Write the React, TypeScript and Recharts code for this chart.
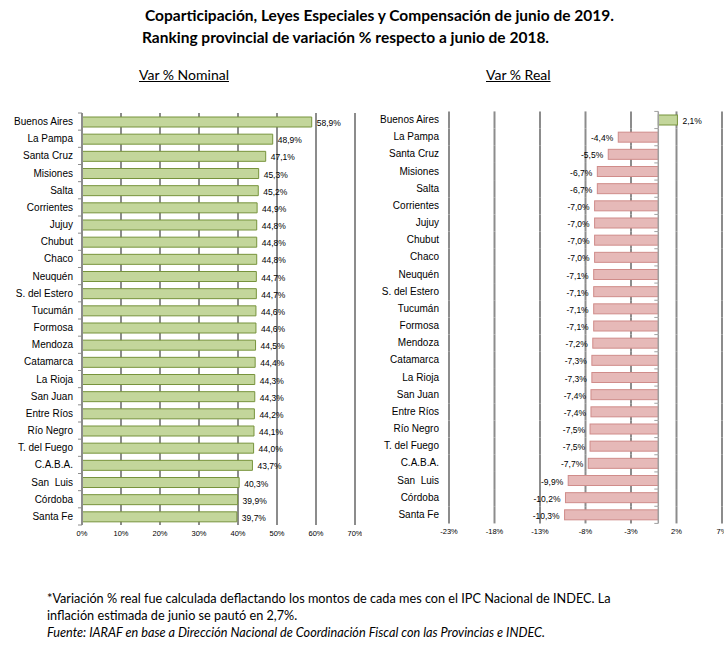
import React from 'react';
import { BarChart, Bar, XAxis, YAxis, CartesianGrid, LabelList } from 'recharts';

// Provinces in ranking order (same order in both panels)
const provincias = [
    'Buenos Aires', 'La Pampa', 'Santa Cruz', 'Misiones', 'Salta', 'Corrientes', 'Jujuy', 'Chubut',
    'Chaco', 'Neuquén', 'S. del Estero', 'Tucumán', 'Formosa', 'Mendoza', 'Catamarca', 'La Rioja',
    'San Juan', 'Entre Ríos', 'Río Negro', 'T. del Fuego', 'C.A.B.A.', 'San  Luis', 'Córdoba', 'Santa Fe',
];

const varNominal = [
    58.9, 48.9, 47.1, 45.3, 45.2, 44.9, 44.8, 44.8, 44.8, 44.7, 44.7, 44.6,
    44.6, 44.5, 44.4, 44.3, 44.3, 44.2, 44.1, 44.0, 43.7, 40.3, 39.9, 39.7,
];

const varReal = [
    2.1, -4.4, -5.5, -6.7, -6.7, -7.0, -7.0, -7.0, -7.0, -7.1, -7.1, -7.1,
    -7.1, -7.2, -7.3, -7.3, -7.4, -7.4, -7.5, -7.5, -7.7, -9.9, -10.2, -10.3,
];

const ticksNominal = [0, 10, 20, 30, 40, 50, 60, 70];
const ticksReal = [-23, -18, -13, -8, -3, 2, 7];

const nominalData = provincias.map((name, i) => ({ name, v: varNominal[i] }));
const realData = provincias.map((name, i) => ({ name, v: varReal[i] }));

const GRID = '#8c8c8c';
const ZERO = '#a0a0a0';
const GREEN = '#C3D69B';
const GREEN_EDGE = '#77933C';
const PINK = '#E6B9B8';
const PINK_EDGE = '#D08C8A';
const AXIS_FONT = '"Liberation Sans", Arial, sans-serif';
const TEXT_FONT = 'Lato, "Open Sans", sans-serif';

const PLOT_H = 412;
const BAND = PLOT_H / provincias.length;

const fmt = (v: number) => `${v.toFixed(1).replace('.', ',')}%`;

// outside-end label, works for negative bars too
const renderValue = (props: any) => {
    const vb = props.viewBox || {};
    const x = Number(props.x ?? vb.x);
    const y = Number(props.y ?? vb.y);
    const w = Number(props.width ?? vb.width);
    const h = Number(props.height ?? vb.height);
    const num = Number(props.value);
    const right = Math.max(x, x + w);
    const left = Math.min(x, x + w);
    const tx = num >= 0 ? right + 5 : left - 5;
    return (
        <text x={tx} y={y + h / 2} dy={4} textAnchor={num >= 0 ? 'start' : 'end'}
            fontSize={8.5} fontFamily={AXIS_FONT} fill="#000">
            {fmt(num)}
        </text>
    );
};

// category label + small tick mark at the category boundary (Excel style)
const makeTick = (withMarks: boolean) => (props: any) => {
    const { x, y, payload, index } = props;
    return (
        <g>
            <text x={x} y={y} dy={3.5} textAnchor="end" fontSize={10} fontFamily={AXIS_FONT} fill="#000"
                style={{ whiteSpace: 'pre' }}>
                {payload.value}
            </text>
            {withMarks && (
                <line x1={x + 5} x2={x + 9} y1={y - BAND / 2} y2={y - BAND / 2} stroke={GRID} />
            )}
            {withMarks && index === provincias.length - 1 && (
                <line x1={x + 5} x2={x + 9} y1={y + BAND / 2} y2={y + BAND / 2} stroke={GRID} />
            )}
        </g>
    );
};

const RealTick = (props: any) => {
    const { x, y, payload } = props;
    return (
        <text x={x} y={y} dy={5} textAnchor="middle" fontSize={7.5} fontFamily={AXIS_FONT} fill="#000">
            {`${payload.value}%`}
        </text>
    );
};

// one band of the right panel: gridline pieces (from the bar's own scale), the bar, the zero axis piece
const RealBar = (props: any) => {
    const { x, y, width, height, payload, index } = props;
    const v = Number(payload?.v);
    const rx = Math.min(x, x + width);
    const rw = Math.abs(width);
    const baseX = v >= 0 ? rx : rx + rw;
    const k = v !== 0 ? rw / Math.abs(v) : 0;
    const pad = (BAND - height) / 2;
    const top = y - pad;
    const bottom = y + height + pad;
    return (
        <g>
            {ticksReal.map((t) => (
                <line key={t} x1={baseX + t * k} x2={baseX + t * k} y1={top} y2={bottom} stroke={GRID} strokeWidth={2} />
            ))}
            <rect x={rx} y={y} width={rw} height={height}
                fill={v >= 0 ? GREEN : PINK} stroke={v >= 0 ? GREEN_EDGE : PINK_EDGE} strokeWidth={1} />
            <line x1={baseX} x2={baseX} y1={top} y2={bottom} stroke={ZERO} strokeWidth={1.5} />
            <line x1={baseX - 4} x2={baseX} y1={top} y2={top} stroke={ZERO} />
            {index === provincias.length - 1 && (
                <line x1={baseX - 4} x2={baseX} y1={bottom} y2={bottom} stroke={ZERO} />
            )}
        </g>
    );
};

const xTickStyle = { fontSize: 7.5, fontFamily: AXIS_FONT, fill: '#000' };

export default function App() {
    return (
        <div style={{ position: 'absolute', left: 0, top: 0, width: 724, height: 660, overflow: 'hidden', background: '#fff', fontFamily: TEXT_FONT }}>
            <div style={{ position: 'absolute', left: 145, top: 5, fontWeight: 700, fontSize: 15.5, whiteSpace: 'nowrap', lineHeight: '20px' }}>
                Coparticipación, Leyes Especiales y Compensación de junio de 2019.
            </div>
            <div style={{ position: 'absolute', left: 142, top: 27, fontWeight: 700, fontSize: 15.5, whiteSpace: 'nowrap', lineHeight: '20px' }}>
                Ranking provincial de variación % respecto a junio de 2018.
            </div>
            <div style={{ position: 'absolute', left: 139, top: 66, fontSize: 14, textDecoration: 'underline', lineHeight: '18px' }}>
                Var % Nominal
            </div>
            <div style={{ position: 'absolute', left: 486, top: 66, fontSize: 14, textDecoration: 'underline', lineHeight: '18px' }}>
                Var % Real
            </div>

            <div style={{ position: 'absolute', left: 0, top: 100 }}>
                <BarChart id="nominal" width={362} height={445} data={nominalData} layout="vertical"
                    margin={{ top: 13, right: 7, bottom: 0, left: 0 }}>
                    <CartesianGrid horizontal={false} stroke={GRID} strokeWidth={2} />
                    <XAxis type="number" domain={[0, 70]} ticks={ticksNominal} tickFormatter={(v) => `${v}%`}
                        axisLine={false} tickLine={false} tickMargin={0} height={20} tick={xTickStyle} interval={0} />
                    <YAxis type="category" dataKey="name" width={82} tickLine={false} tickSize={5} tickMargin={4}
                        axisLine={{ stroke: GRID, strokeWidth: 2 }} interval={0} tick={makeTick(true)} />
                    <Bar dataKey="v" fill={GREEN} stroke={GREEN_EDGE} strokeWidth={1} barSize={10} isAnimationActive={false}>
                        <LabelList dataKey="v" content={renderValue} />
                    </Bar>
                </BarChart>
            </div>

            <div style={{ position: 'absolute', left: 362, top: 100 }}>
                <BarChart id="real" width={370} height={443} data={realData} layout="vertical"
                    margin={{ top: 11, right: 10, bottom: 0, left: 0 }}>
                    <XAxis type="number" domain={[-23, 7]} ticks={ticksReal}
                        axisLine={false} tickLine={false} tickSize={6} tickMargin={0} height={20}
                        tick={<RealTick />} interval={0} />
                    <YAxis type="category" dataKey="name" width={87} tickLine={false} tickSize={5} tickMargin={5}
                        axisLine={false} interval={0} tick={makeTick(false)} />
                    <Bar dataKey="v" barSize={10} shape={<RealBar />} isAnimationActive={false}>
                        <LabelList dataKey="v" content={renderValue} />
                    </Bar>
                </BarChart>
            </div>

            <div style={{ position: 'absolute', left: 47, top: 590, fontSize: 12.7, lineHeight: '17px', whiteSpace: 'nowrap' }}>
                <div>*Variación % real fue calculada deflactando los montos de cada mes con el IPC Nacional de INDEC. La</div>
                <div>inflación estimada de junio se pautó en 2,7%.</div>
                <div style={{ fontStyle: 'italic' }}>Fuente: IARAF en base a Dirección Nacional de Coordinación Fiscal con las Provincias e INDEC.</div>
            </div>
        </div>
    );
}
